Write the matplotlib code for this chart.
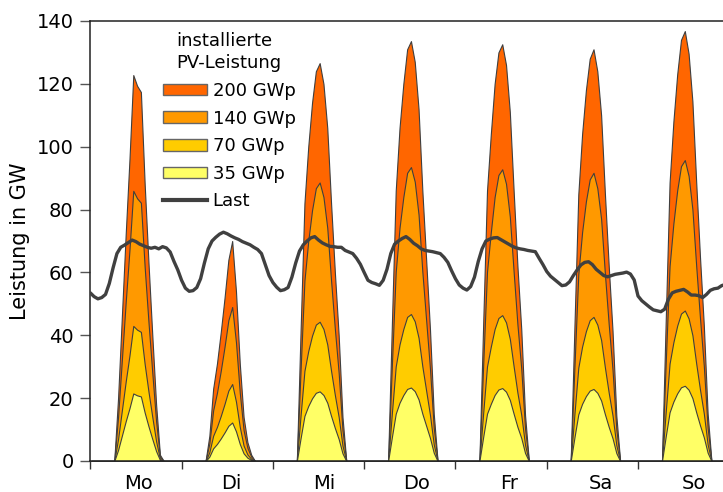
import numpy as np
import matplotlib
matplotlib.use("Agg")
import matplotlib.pyplot as plt
from matplotlib.patches import Patch
from matplotlib.lines import Line2D

# ---------------- data ----------------
days = ["Mo", "Di", "Mi", "Do", "Fr", "Sa", "So"]
capacities = [200, 140, 70, 35]          # installed PV capacity in GWp
labels = ["200 GWp", "140 GWp", "70 GWp", "35 GWp"]
load_label = "Last"

# PV output per installed GWp, hours 6..19 of each day
first_day_hour = 6
pv_yield_mo = [0, 0.10, 0.23, 0.36, 0.48, 0.614, 0.597, 0.587, 0.44, 0.315, 0.20, 0.09, 0.01, 0]
pv_yield_di = [0, 0.04, 0.115, 0.155, 0.205, 0.26, 0.32, 0.35, 0.27, 0.155, 0.07, 0.03, 0.01, 0]
pv_yield_mi = [0, 0.21, 0.41, 0.50, 0.57, 0.62, 0.633, 0.60, 0.53, 0.41, 0.30, 0.20, 0.07, 0]
pv_yield_do = [0, 0.22, 0.43, 0.53, 0.60, 0.655, 0.668, 0.635, 0.56, 0.43, 0.32, 0.21, 0.075, 0]
pv_yield_fr = [0, 0.22, 0.43, 0.52, 0.60, 0.65, 0.663, 0.63, 0.555, 0.43, 0.31, 0.21, 0.073, 0]
pv_yield_sa = [0, 0.217, 0.424, 0.52, 0.59, 0.64, 0.655, 0.62, 0.55, 0.425, 0.31, 0.207, 0.072, 0]
pv_yield_so = [0, 0.227, 0.443, 0.54, 0.615, 0.67, 0.684, 0.648, 0.572, 0.443, 0.324, 0.216, 0.076, 0]

# electrical load (GW), hourly over the week
load = [
    53.5, 52.3, 51.6, 52.0, 53.0, 56.5, 61.5, 66.0, 68.0, 68.7, 69.5, 70.3,
    69.8, 69.0, 68.5, 68.0, 67.7, 68.0, 67.5, 68.2, 67.8, 66.5, 63.5, 60.8,
    57.5, 55.0, 54.0, 54.2, 55.2, 58.0, 63.0, 67.5, 70.0, 71.2, 72.2, 72.8,
    72.3, 71.6, 71.0, 70.5, 69.8, 69.3, 68.8, 68.0, 67.3, 66.0, 62.5, 59.0,
    56.8, 55.3, 54.2, 54.5, 55.2, 58.5, 63.0, 66.8, 68.8, 70.0, 71.0, 71.4,
    70.3, 69.4, 68.8, 68.3, 68.2, 68.0, 68.0, 67.0, 66.5, 66.0, 64.5, 62.6,
    60.0, 57.5, 56.8, 56.4, 55.9, 57.5, 61.0, 66.0, 69.0, 70.0, 70.8, 71.4,
    70.5, 69.3, 68.5, 67.5, 67.0, 66.8, 66.6, 66.3, 66.0, 64.8, 63.2, 60.5,
    58.0, 56.0, 55.0, 54.4, 55.5, 58.5, 63.5, 67.5, 70.0, 70.6, 71.0, 71.1,
    70.4, 69.7, 69.0, 68.3, 67.8, 67.5, 67.3, 67.0, 66.8, 66.6, 64.5, 62.5,
    60.3, 58.8, 57.8, 56.8, 55.8, 56.0, 57.0, 59.0, 60.8, 62.4, 63.2, 63.4,
    62.5, 61.0, 60.0, 59.0, 58.6, 59.0, 59.4, 59.6, 59.8, 60.1, 59.5, 57.6,
    52.5, 51.0, 50.0, 49.0, 48.1, 47.8, 47.5, 48.3, 51.5, 53.5, 54.0, 54.3,
    54.6, 53.8, 52.8, 52.8, 52.6, 52.0, 53.0, 54.3, 54.8, 55.0, 55.8, 56.2,
]

# ---------------- build hourly series ----------------
profiles = [pv_yield_mo, pv_yield_di, pv_yield_mi, pv_yield_do,
            pv_yield_fr, pv_yield_sa, pv_yield_so]
n_hours = 24 * len(days)
hours = np.arange(n_hours)
pv_yield = np.zeros(n_hours)
for d, prof in enumerate(profiles):
    s = d * 24 + first_day_hour
    pv_yield[s:s + len(prof)] = prof

colors = ["#FF6600", "#FF9900", "#FFCC00", "#FFFF66"]
edge = "#3f3f3f"
load_color = "#404040"

# ---------------- figure ----------------
W, H = 723, 492
fig = plt.figure(figsize=(W / 100, H / 100), dpi=100)
plt.rcParams["font.family"] = ["DejaVu Sans"]

left_px, right_px, top_px, bot_px = 90.3, 729.3, 21, 461
ax = fig.add_axes([left_px / W, 1 - bot_px / H,
                   (right_px - left_px) / W, (bot_px - top_px) / H])

pv_x = hours + 0.3
for cap, col, lab in zip(capacities, colors, labels):
    ax.fill_between(pv_x, 0, pv_yield * cap, facecolor=col,
                    edgecolor=edge, linewidth=0.8, label=lab, zorder=2)

ax.plot(hours, load, color=load_color, lw=2.4, solid_joinstyle="round",
        solid_capstyle="round", label=load_label, zorder=3)

ax.set_xlim(0, n_hours)
ax.set_ylim(0, 140)
ax.set_yticks(np.arange(0, 141, 20))
ax.set_xticks(np.arange(0, n_hours + 1, 24))
ax.set_xticklabels([])
ax.set_xticks([12.8 + 24.3 * i for i in range(len(days))], minor=True)
ax.set_xticklabels(days, minor=True)
ax.tick_params(axis="x", which="minor", length=0, pad=9.5, labelsize=14)
ax.tick_params(axis="x", which="major", length=6, width=1, direction="out",
               color="#333333")
ax.tick_params(axis="y", length=7, width=1, direction="out", pad=5,
               labelsize=14, color="#555555")

for side in ["left", "top", "bottom"]:
    ax.spines[side].set_color("#222222")
    ax.spines[side].set_linewidth(1.1)
ax.spines["right"].set_visible(False)

ax.set_ylabel("Leistung in GW", fontsize=15)
ax.yaxis.set_label_coords(-0.094, 0.5)

# legend
handles = [Patch(facecolor=c, edgecolor="#666666", linewidth=1.0) for c in colors]
handles.append(Line2D([], [], color=load_color, lw=3))
leg = fig.legend(handles, labels + [load_label], loc="upper left",
                 bbox_to_anchor=(163 / W, 1 - 82 / H),
                 bbox_transform=fig.transFigure, frameon=False, fontsize=13,
                 handlelength=2.45, handleheight=0.62, handletextpad=0.3,
                 labelspacing=0.53, borderpad=0, borderaxespad=0)
fig.text(176 / W, 1 - 32 / H, "installierte\nPV-Leistung", fontsize=13,
         ha="left", va="top", linespacing=1.25)

fig.savefig("out.png", dpi=100)
